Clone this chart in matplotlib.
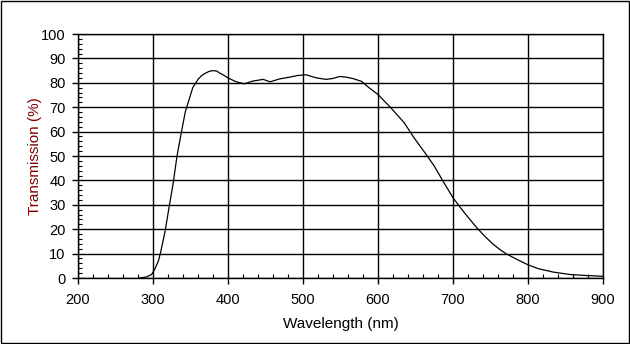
import matplotlib
matplotlib.use("Agg")
import matplotlib.pyplot as plt
from matplotlib.patches import Rectangle
from matplotlib.ticker import MultipleLocator

plt.rcParams["font.family"] = ["Liberation Sans", "DejaVu Sans"]

# Courbe de transmission
wavelength = [282, 291, 298, 302, 307, 310, 316, 322, 327, 332, 338, 343, 348, 353,
              360, 365, 369, 375, 380, 385, 389, 395, 400, 411, 422, 433, 447, 456, 469,
              482, 493, 504, 518, 531, 540, 549, 558, 567, 578, 588, 600, 617, 635, 648,
              664, 675, 688, 700, 710, 719, 732, 743, 753, 762, 771, 786, 800, 814, 834,
              857, 879, 900]
transmission = [0.0, 0.4, 1.4, 3.4, 6.8, 10.3, 19.0, 30.0, 39.0, 50.0, 60.0, 68.0, 73.0, 78.0,
                81.4, 83.0, 83.8, 84.7, 85.0, 84.8, 84.0, 83.0, 82.0, 80.4, 79.6, 80.7, 81.4,
                80.4, 81.6, 82.3, 83.0, 83.3, 82.0, 81.4, 81.8, 82.6, 82.3, 81.7, 80.6, 78.0,
                75.2, 69.8, 63.6, 57.5, 50.7, 45.9, 39.0, 32.9, 28.8, 25.3, 20.5, 16.9, 14.0,
                11.8, 9.9, 7.5, 5.4, 3.8, 2.4, 1.4, 1.0, 0.7]

fig = plt.figure(figsize=(6.3, 3.44), dpi=100)
ax = fig.add_axes([78 / 630, 66 / 344, 525 / 630, 244 / 344])

ax.plot(wavelength, transmission, color="black", linewidth=0.9)

ax.set_xlim(200, 900)
ax.set_ylim(0, 100)
ax.xaxis.set_major_locator(MultipleLocator(100))
ax.xaxis.set_minor_locator(MultipleLocator(20))
ax.yaxis.set_major_locator(MultipleLocator(10))
ax.yaxis.set_minor_locator(MultipleLocator(2))
ax.grid(True, which="major", color="black", linewidth=1.0)
ax.set_axisbelow(True)

ax.tick_params(which="major", direction="out", length=4, width=1, labelsize=10.5)
ax.tick_params(which="minor", direction="in", length=3, width=0.8)
ax.tick_params(axis="x", which="major", pad=7)
ax.tick_params(axis="y", which="major", pad=5)
for s in ax.spines.values():
    s.set_linewidth(1.0)

ax.set_xlabel("Wavelength (nm)", fontsize=11, labelpad=7)
ax.set_ylabel("Transmission (%)", fontsize=11, color="#800000", labelpad=-1)

# Cadre autour de la figure
fig.patches.append(Rectangle((0.0008, 0.0015), 0.9984, 0.997, transform=fig.transFigure,
                             fill=False, edgecolor="black", linewidth=1.0))

fig.savefig("out.png", dpi=100)
